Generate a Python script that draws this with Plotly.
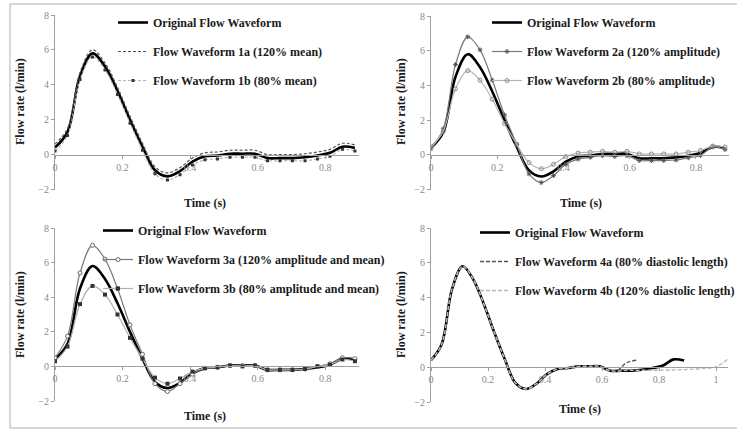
import plotly.graph_objects as go

# ---------------- data ----------------
t = [0.000, 0.037, 0.074, 0.111, 0.148, 0.185, 0.222, 0.259, 0.296, 0.333,
     0.370, 0.407, 0.444, 0.481, 0.518, 0.555, 0.592, 0.629, 0.666, 0.703,
     0.740, 0.777, 0.814, 0.851, 0.888]

original = [0.40, 1.30, 4.50, 5.80, 5.05, 3.65, 2.00, 0.45, -0.90, -1.25,
            -0.95, -0.40, -0.10, -0.05, 0.05, 0.05, 0.05, -0.20, -0.20, -0.20,
            -0.15, -0.05, 0.10, 0.45, 0.38]

wave_1a = [0.60, 1.50, 4.70, 6.00, 5.25, 3.85, 2.20, 0.65, -0.70, -1.05,
           -0.75, -0.20, 0.10, 0.15, 0.25, 0.25, 0.25, 0.00, 0.00, 0.00,
           0.05, 0.15, 0.30, 0.65, 0.55]
wave_1b = [0.20, 1.10, 4.30, 5.60, 4.85, 3.45, 1.80, 0.25, -1.10, -1.45,
           -1.15, -0.60, -0.30, -0.25, -0.15, -0.15, -0.15, -0.35, -0.35, -0.35,
           -0.35, -0.25, -0.10, 0.30, 0.20]

wave_2a = [0.35, 1.50, 5.20, 6.80, 6.05, 4.30, 2.30, 0.60, -1.10, -1.60,
           -1.20, -0.55, -0.25, -0.15, -0.05, -0.10, -0.05, -0.33, -0.33, -0.33,
           -0.30, -0.17, -0.04, 0.45, 0.30]
wave_2b = [0.45, 1.35, 3.80, 4.85, 4.30, 3.20, 1.80, 0.60, -0.45, -0.80,
           -0.55, -0.10, 0.10, 0.15, 0.20, 0.15, 0.20, 0.05, 0.05, 0.05,
           0.05, 0.15, 0.25, 0.50, 0.45]

wave_3a = [0.50, 1.75, 5.40, 7.00, 6.20, 4.50, 2.40, 0.70, -1.00, -1.45,
           -1.00, -0.45, -0.10, -0.05, 0.05, 0.05, 0.05, -0.20, -0.20, -0.20,
           -0.15, 0.00, 0.15, 0.50, 0.45]
wave_3b = [0.30, 1.15, 3.60, 4.65, 4.15, 3.00, 1.65, 0.45, -0.65, -1.00,
           -0.70, -0.30, -0.10, -0.05, 0.05, 0.00, 0.05, -0.20, -0.20, -0.20,
           -0.15, 0.00, 0.10, 0.40, 0.30]

t_4a = t[:17] + [0.625, 0.655, 0.685, 0.720]
wave_4a = original[:17] + [-0.20, -0.18, 0.25, 0.40]
t_4b = t[:17] + [0.629, 0.700, 0.800, 0.900, 0.950, 1.000, 1.040]
wave_4b = original[:17] + [-0.20, -0.18, -0.17, -0.13, -0.08, 0.02, 0.45]

x_ticks_123 = [0, 0.2, 0.4, 0.6, 0.8]
x_ticks_4 = [0, 0.2, 0.4, 0.6, 0.8, 1]
y_ticks = [-2, 0, 2, 4, 6, 8]

legend_names = {
    "orig": "Original Flow Waveform",
    "1a": "Flow Waveform 1a (120% mean)",
    "1b": "Flow Waveform 1b (80% mean)",
    "2a": "Flow Waveform 2a (120% amplitude)",
    "2b": "Flow Waveform 2b (80% amplitude)",
    "3a": "Flow Waveform 3a (120% amplitude and mean)",
    "3b": "Flow Waveform 3b (80% amplitude and mean)",
    "4a": "Flow Waveform 4a (80% diastolic length)",
    "4b": "Flow Waveform 4b (120% diastolic length)",
}

# ---------------- layout geometry ----------------
W, H = 737, 429
SERIF = "Liberation Serif, Times New Roman, serif"

def px_x(p):
    return p / W

def px_y(p):
    return 1 - p / H

# panel: (xaxis name, yaxis name, x0px, x1px, ytop px(8), ybot px(-2), xmax)
panels = [
    ("x", "y", 55, 359, 15, 189.5, 0.9),
    ("x2", "y2", 431, 729, 16, 189.5, 0.9),
    ("x3", "y3", 55, 359, 228, 401, 0.9),
    ("x4", "y4", 431, 728, 228, 402, 1.042),
]

fig = go.Figure()

def add(panel_idx, x, y, key, legend, color, width=1.2, dash="solid",
        marker=None, mode="lines"):
    xa, ya = panels[panel_idx][0], panels[panel_idx][1]
    tr = dict(x=x, y=y, name="<b>" + legend_names[key] + "</b>",
              xaxis=xa, yaxis=ya,
              mode=mode, legend=legend, legendgroup=f"{legend}_{key}",
              line=dict(color=color, width=width, dash=dash,
                        shape="spline", smoothing=1.0),
              hoverinfo="skip")
    if marker is not None:
        tr["marker"] = marker
    fig.add_trace(go.Scatter(**tr))

# Panel 1
add(0, t, original, "orig", "legend", "#000000", 2.6)
add(0, t, wave_1a, "1a", "legend", "#555555", 1.2, dash="3px,2px")
add(0, t, wave_1b, "1b", "legend", "#b5b5b5", 1.2, dash="3px,2px",
    marker=dict(symbol="square", size=3, color="#333333"), mode="lines+markers")

# Panel 2
add(1, t, original, "orig", "legend2", "#000000", 2.6)
add(1, t, wave_2a, "2a", "legend2", "#7a7a7a", 1.2,
    marker=dict(symbol="asterisk-open", size=4, color="#555555",
                line=dict(width=1, color="#555555")), mode="lines+markers")
add(1, t, wave_2b, "2b", "legend2", "#b5b5b5", 1.2,
    marker=dict(symbol="circle-open", size=4, color="#8a8a8a",
                line=dict(width=1, color="#8a8a8a")), mode="lines+markers")

# Panel 3
add(2, t, original, "orig", "legend3", "#000000", 2.6)
add(2, t, wave_3a, "3a", "legend3", "#7a7a7a", 1.2,
    marker=dict(symbol="circle", size=4, color="#ffffff",
                line=dict(width=1, color="#6a6a6a")), mode="lines+markers")
add(2, t, wave_3b, "3b", "legend3", "#b0b0b0", 1.2,
    marker=dict(symbol="square", size=4, color="#333333"), mode="lines+markers")

# Panel 4
add(3, t, original, "orig", "legend4", "#000000", 2.6)
add(3, t_4a, wave_4a, "4a", "legend4", "#555555", 1.4, dash="4px,2px")
add(3, t_4b, wave_4b, "4b", "legend4", "#b8b8b8", 1.4, dash="4px,2px")

# axes
tickfont = dict(family=SERIF, size=10, color="#8a8a8a")
layout = dict(width=W, height=H,
              margin=dict(l=0, r=0, t=0, b=0, autoexpand=False),
              paper_bgcolor="white", plot_bgcolor="rgba(0,0,0,0)",
              showlegend=True)

for i, (xa, ya, x0, x1, ytop, ybot, xmax) in enumerate(panels):
    xkey = "xaxis" if xa == "x" else "xaxis" + xa[1:]
    ykey = "yaxis" if ya == "y" else "yaxis" + ya[1:]
    yd0, yd1 = px_y(ybot), px_y(ytop)
    zero_pos = yd0 + (yd1 - yd0) * 0.2
    ticks = x_ticks_4 if i == 3 else x_ticks_123
    layout[xkey] = dict(domain=[px_x(x0), px_x(x1)], range=[0, xmax],
                        anchor="free", position=zero_pos,
                        tickvals=ticks,
                        ticktext=[str(int(v)) if v in (0, 1) else str(v)
                                  for v in ticks],
                        showgrid=False, zeroline=False,
                        showline=True, linecolor="#a0a0a0", linewidth=1,
                        ticks="outside", ticklen=3, tickcolor="#a0a0a0",
                        tickfont=tickfont, fixedrange=True, automargin=False)
    layout[ykey] = dict(domain=[yd0, yd1], range=[-2, 8],
                        anchor=xa, tickvals=y_ticks,
                        showgrid=False, zeroline=False,
                        showline=True, linecolor="#a0a0a0", linewidth=1,
                        ticks="outside", ticklen=3, tickcolor="#a0a0a0",
                        tickfont=tickfont, fixedrange=True, automargin=False)

legend_common = dict(font=dict(family=SERIF, size=12, color="#1a1a1a"),
                     bgcolor="rgba(0,0,0,0)", borderwidth=0,
                     traceorder="grouped", tracegroupgap=10,
                     itemwidth=30, xanchor="left", yanchor="top")
legend_pos = {"legend": (113, 8), "legend2": (487, 8),
              "legend3": (98, 216), "legend4": (475, 218)}
for name, (lx, ly) in legend_pos.items():
    layout[name] = dict(legend_common, x=px_x(lx), y=px_y(ly))

# axis titles as annotations
title_font = dict(family=SERIF, size=12, color="#1a1a1a")
ann = []
ytitles = [(20, 102), (401, 102), (20, 315), (401, 315)]
xtitles = [(205, 203), (581, 203), (205, 416), (580, 409)]
for (xx, yy) in ytitles:
    ann.append(dict(text="<b>Flow rate (l/min)</b>", x=px_x(xx), y=px_y(yy),
                    xref="paper", yref="paper", showarrow=False, textangle=-90,
                    font=title_font, xanchor="center", yanchor="middle"))
for (xx, yy) in xtitles:
    ann.append(dict(text="<b>Time (s)</b>", x=px_x(xx), y=px_y(yy),
                    xref="paper", yref="paper", showarrow=False,
                    font=title_font, xanchor="center", yanchor="middle"))
layout["annotations"] = ann

layout["shapes"] = [dict(type="rect", xref="paper", yref="paper",
                         x0=px_x(10), x1=1.02, y0=px_y(428), y1=px_y(4),
                         line=dict(color="#b0b0b0", width=1),
                         fillcolor="rgba(0,0,0,0)", layer="below")]

fig.update_layout(**layout)
fig.write_html("out.html")
